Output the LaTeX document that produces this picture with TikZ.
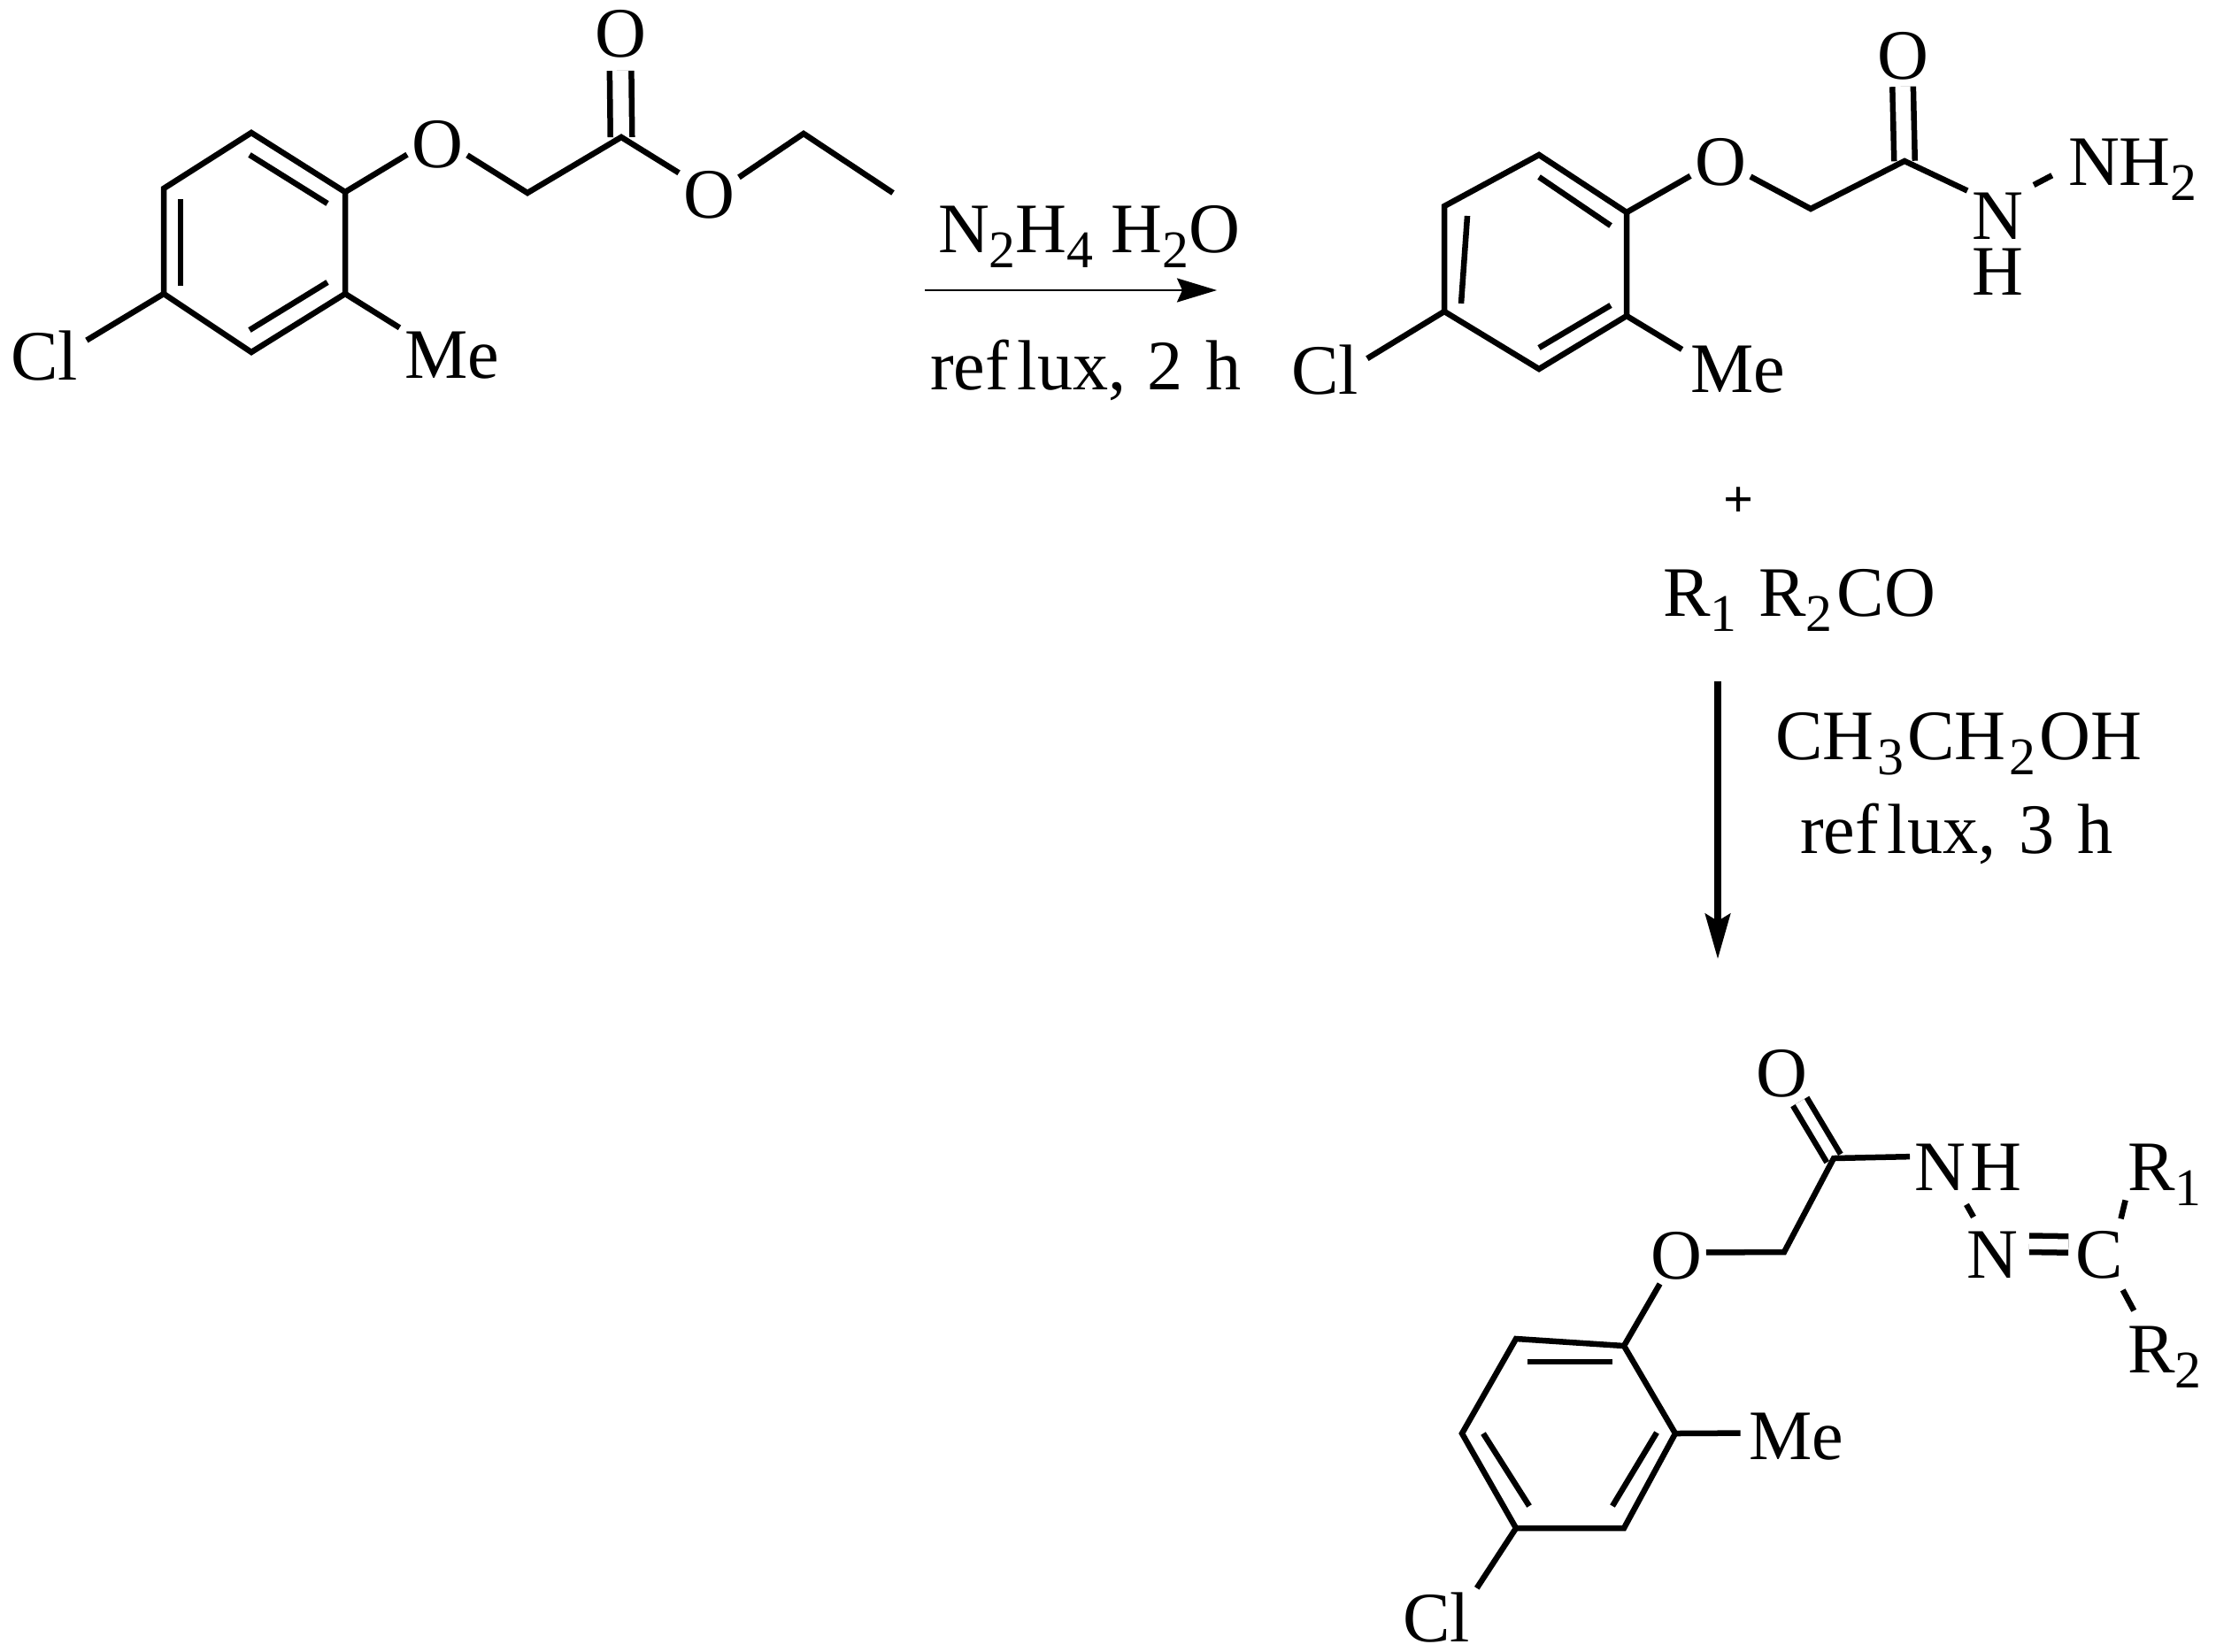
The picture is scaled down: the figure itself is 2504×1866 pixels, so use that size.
\documentclass[tikz,border=0pt]{standalone}
\usepackage{fontspec}
\setmainfont{Liberation Serif}
\usetikzlibrary{arrows.meta}
\newcommand{\lowsub}[1]{\raisebox{-.17cm}{\fontsize{17}{17}\selectfont #1}}
\tikzset{
  atom/.style={inner sep=.05cm, outer sep=0pt, font=\fontsize{22.8}{26}\selectfont},
  subst/.style={atom, inner xsep=.1cm},
  reagent/.style={inner sep=0pt, outer sep=0pt, anchor=base west, font=\fontsize{22.8}{26}\selectfont},
  bond/.style={line width=.065cm},
  cobond/.style={bond, double, double distance=.18cm}
}
\begin{document}
\begin{tikzpicture}[x=.01cm, y=-.01cm]
    \useasboundingbox (0,0) rectangle (2504,1866);

    % Ester: ring
    \coordinate (a1) at (284,150);
    \coordinate (a2) at (390,217);
    \coordinate (a3) at (390,332);
    \coordinate (a4) at (284,398);
    \coordinate (a5) at (185,332);
    \coordinate (a6) at (185,213);
    \coordinate (b1) at (282,175);
    \coordinate (b2) at (370,230);
    \coordinate (b3) at (370,319);
    \coordinate (b4) at (282,373);
    \coordinate (b5) at (204,323);
    \coordinate (b6) at (204,225);
    % Ester: chain
    \coordinate (a7) at (596,218);
    \coordinate (a8) at (702,155);
    \coordinate (a9) at (908,151);
    \coordinate (a10) at (1009,218);
    \node[atom] (oa1) at (494,163) {O};
    \node[atom] (oa2) at (701,38) {O};
    \node[atom] (oa3) at (801,220) {O};
    \node[subst] (cla) at (50,402) {Cl};
    \node[subst] (mea) at (511,402) {Me};
    \draw[bond] (a1) -- (a2) -- (a3) -- (a4) -- (a5) -- (a6) -- cycle;
    \draw[bond] (b1) -- (b2);
    \draw[bond] (b3) -- (b4);
    \draw[bond] (b5) -- (b6);
    \draw[cobond, shorten >=.1cm] (a8) -- (oa2.south);
    \draw[bond] (a2) -- (oa1.199);
    \draw[bond] (oa1.340) -- (a7) -- (a8) -- (oa3.144);
    \draw[bond] (oa3.30) -- (a9) -- (a10);
    \draw[bond] (a5) -- (cla.20);
    \draw[bond] (a3) -- (mea.152);

    % First step
    \coordinate (ra) at (1045,328);
    \coordinate (rb) at (1375,328);
    \draw[line width=.025cm, -{Stealth[length=.45cm, width=.27cm, inset=.06cm]}] (ra) -- (rb);
    \node[reagent] (hydrazine) at (1060,285) {N\lowsub{2}H\lowsub{4} H\lowsub{2}O};
    \node[reagent] (refluxa) at (1051,440) {ref\kern.1cm lux, \kern.04cm 2 \kern.06cm h};

    % Hydrazide: ring
    \coordinate (c1) at (1739,175);
    \coordinate (c2) at (1838,240);
    \coordinate (c3) at (1838,357);
    \coordinate (c4) at (1739,417);
    \coordinate (c5) at (1632,352);
    \coordinate (c6) at (1632,233);
    \coordinate (d1) at (1739,200);
    \coordinate (d2) at (1820,255);
    \coordinate (d3) at (1820,345);
    \coordinate (d4) at (1739,393);
    \coordinate (d5) at (1651,343);
    \coordinate (d6) at (1658,244);
    % Hydrazide: chain
    \coordinate (c7) at (2046,236);
    \coordinate (c8) at (2152,182);
    \node[atom] (ob1) at (1944,183) {O};
    \node[atom] (ob2) at (2150,63) {O};
    \node[atom] (nb1) at (2257,244) {N};
    \node[atom] (hb1) at (2257,307) {H};
    \node[atom, anchor=base west] (nhb) at (2332,209) {NH\lowsub{2}};
    \node[subst] (clb) at (1497,418) {Cl};
    \node[subst] (meb) at (1964,418) {Me};
    \draw[bond] (c1) -- (c2) -- (c3) -- (c4) -- (c5) -- (c6) -- cycle;
    \draw[bond] (d1) -- (d2);
    \draw[bond] (d3) -- (d4);
    \draw[bond] (d5) -- (d6);
    \draw[cobond, double distance=.17cm, shorten >=.03cm] (c8) -- (ob2.south);
    \draw[bond] (c2) -- (ob1.205);
    \draw[bond] (ob1.334) -- (c7) -- (c8) -- (nb1.140);
    \draw[bond, shorten <=.08cm, shorten >=.15cm] (nb1.north east) -- (nhb.west);
    \draw[bond] (c5) -- (clb.15);
    \draw[bond] (c3) -- (meb.160);

    % Second step
    \node[font=\bfseries\fontsize{17}{18}\selectfont, inner sep=0pt] (plus) at (1964,568) {+};
    \node[reagent] (ketone) at (1879,696) {R\lowsub{1}\kern.05cm\ R\lowsub{2}\kern.05cm CO};
    \coordinate (rc) at (1941,770);
    \coordinate (rd) at (1941,1084);
    \draw[line width=.08cm, -{Stealth[length=.51cm, width=.28cm, inset=.08cm]}] (rc) -- (rd);
    \node[reagent] (ethanol) at (2006,858) {CH\kern.04cm\lowsub{3}\kern.04cm CH\kern.04cm\lowsub{2}\kern.04cm OH};
    \node[reagent] (refluxb) at (2034,964) {ref\kern.1cm lux, \kern.06cm 3 \kern.06cm h};

    % Hydrazone: ring
    \coordinate (e1) at (1835,1521);
    \coordinate (e2) at (1713,1513);
    \coordinate (e3) at (1652,1620);
    \coordinate (e4) at (1713,1727);
    \coordinate (e5) at (1835,1727);
    \coordinate (e6) at (1893,1620);
    \coordinate (f1) at (1726,1539);
    \coordinate (f2) at (1822,1539);
    \coordinate (f3) at (1676,1620);
    \coordinate (f4) at (1728,1702);
    \coordinate (f5) at (1872,1619);
    \coordinate (f6) at (1822,1702);
    % Hydrazone: chain
    \coordinate (e7) at (2016,1415);
    \coordinate (e8) at (2072,1309);
    \node[atom] (oc1) at (1894,1419) {O};
    \node[atom] (oc2) at (2013,1213) {O};
    \node[atom, anchor=base west] (nhc) at (2158,1345) {N\kern.06cm H};
    \node[atom] (nc) at (2251,1418) {N};
    \node[atom] (cc) at (2372,1418) {C};
    \node[atom, anchor=base west] (rone) at (2399,1345) {R\lowsub{1}};
    \node[atom, anchor=base west] (rtwo) at (2399,1551) {R\lowsub{2}};
    \node[subst] (clc) at (1623,1828) {Cl};
    \node[subst] (mec) at (2030,1624) {Me};
    \draw[bond] (e1) -- (e2) -- (e3) -- (e4) -- (e5) -- (e6) -- cycle;
    \draw[bond] (f1) -- (f2);
    \draw[bond] (f3) -- (f4);
    \draw[bond] (f5) -- (f6);
    \draw[cobond, double distance=.115cm] (e8) -- (oc2.303);
    \draw[bond] (e1) -- (oc1.240);
    \draw[bond] (oc1.6) -- (e7) -- (e8) -- (nhc.170);
    \draw[bond, shorten <=.13cm, shorten >=.13cm] (nhc.255) -- (nc.115);
    \draw[cobond, double distance=.12cm, shorten <=.08cm, shorten >=.03cm] (nc.20) -- (cc.160);
    \draw[bond, shorten <=.09cm, shorten >=-.11cm] (cc.55) -- (rone.south west);
    \draw[bond, shorten <=.09cm, shorten >=.14cm] (cc.305) -- (rtwo.125);
    \draw[bond] (e4) -- (clc.36);
    \draw[bond] (e6) -- (mec.176);
\end{tikzpicture}
\end{document}
